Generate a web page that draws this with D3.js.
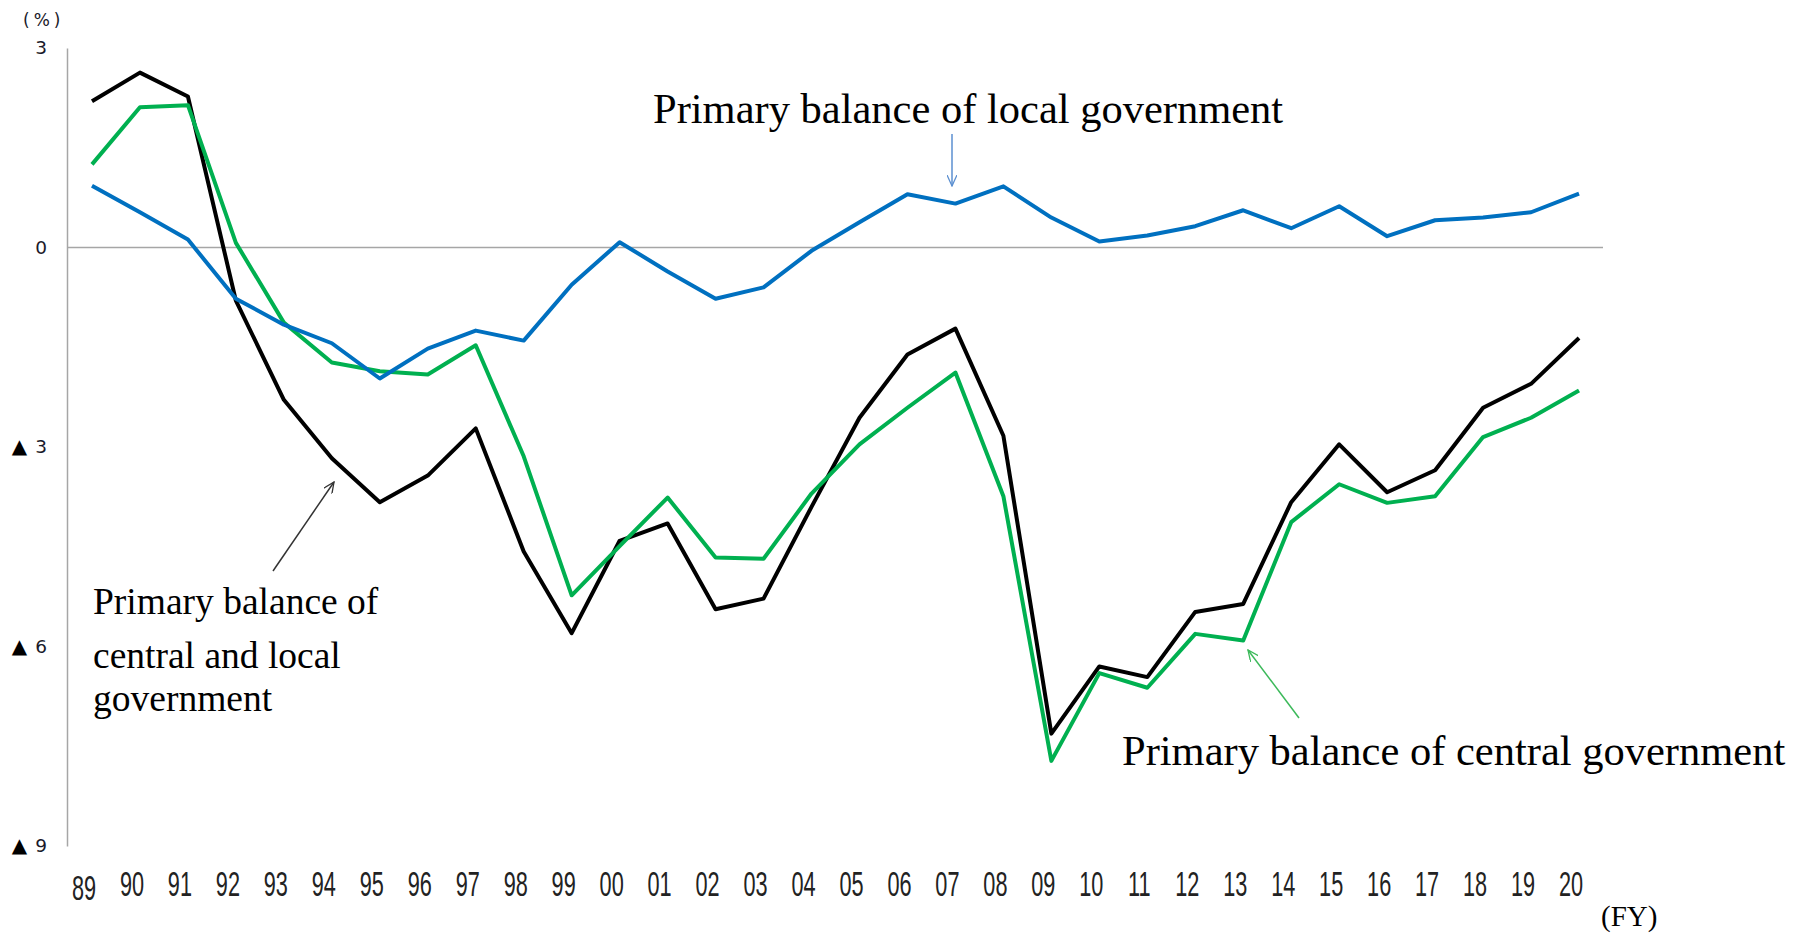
<!DOCTYPE html>
<html>
<head>
<meta charset="utf-8">
<script src="https://cdn.jsdelivr.net/npm/d3@7"></script>
<style>
body { margin: 0; background: #fff; }
svg { display: block; }
</style>
</head>
<body>
<svg id="chart" width="1800" height="933"></svg>
<script>
// fiscal years, 1989 - 2020
const years = ['89', '90', '91', '92', '93', '94', '95', '96', '97', '98', '99',
    '00', '01', '02', '03', '04', '05', '06', '07', '08', '09', '10',
    '11', '12', '13', '14', '15', '16', '17', '18', '19', '20'];
const yTicks = [3, 0, -3, -6, -9];

// primary balance, % of GDP
const centralAndLocal = [2.20, 2.63, 2.27, -0.80, -2.29, -3.17, -3.83, -3.43, -2.72, -4.57, -5.80,
    -4.41, -4.15, -5.44, -5.28, -3.90, -2.56, -1.61, -1.22, -2.83, -7.31, -6.30,
    -6.46, -5.48, -5.36, -3.83, -2.96, -3.68, -3.35, -2.41, -2.05, -1.36];
const central = [1.25, 2.11, 2.14, 0.07, -1.13, -1.73, -1.86, -1.91, -1.47, -3.14, -5.23,
    -4.49, -3.76, -4.66, -4.68, -3.70, -2.96, -2.41, -1.88, -3.74, -7.72, -6.40,
    -6.62, -5.81, -5.91, -4.13, -3.56, -3.84, -3.74, -2.85, -2.56, -2.15];
const local = [0.93, 0.53, 0.12, -0.77, -1.16, -1.44, -1.97, -1.52, -1.25, -1.40, -0.56,
    0.08, -0.36, -0.77, -0.60, -0.05, 0.38, 0.80, 0.66, 0.92, 0.45, 0.09,
    0.18, 0.32, 0.56, 0.29, 0.62, 0.17, 0.41, 0.45, 0.53, 0.81];

const seriesColors = ['#000000', '#00b050', '#0070c0'];

const svg = d3.select('#chart');
const serif = '"Liberation Serif", "Times New Roman", serif';

const x = d3.scaleBand().domain(years).range([68, 1603]);
const cx = d => x(d) + x.bandwidth() / 2;
const y = d3.scaleLinear().domain([-9, 3]).range([846, 48]);

// y axis, negatives shown with a triangle
const yAxis = svg.append('g')
    .attr('transform', 'translate(67,0)')
    .call(d3.axisLeft(y)
        .tickValues(yTicks)
        .tickSize(0)
        .tickPadding(20));
yAxis.select('.domain').attr('stroke', '#a6a6a6').attr('stroke-width', 1.5);
yAxis.selectAll('text')
    .attr('font-family', '"DejaVu Sans", sans-serif')
    .attr('font-size', 18.5)
    .attr('fill', '#1a1a2a')
    .each(function(d) {
        if (d >= 0) return;
        const t = d3.select(this).text(null);
        t.append('tspan').attr('font-size', 20).attr('fill', '#000').text('\u25B2');
        t.append('tspan').attr('dx', 8).text(-d);
    });

svg.append('text')
    .attr('x', 23).attr('y', 26)
    .attr('font-family', '"DejaVu Sans", sans-serif')
    .attr('font-size', 17)
    .attr('letter-spacing', 4)
    .attr('fill', '#1a1a2a')
    .text('(%)');

// zero line
svg.append('line')
    .attr('x1', 67).attr('x2', 1603)
    .attr('y1', y(0)).attr('y2', y(0))
    .attr('stroke', '#a6a6a6').attr('stroke-width', 1.5);

// year labels (narrow font)
svg.append('g').selectAll('text')
    .data(years)
    .join('text')
    .attr('transform', (d, i) => 'translate(' + (cx(d) - 8) + ',' + (i === 0 ? 900 : 896) + ') scale(0.62,1)')
    .attr('text-anchor', 'middle')
    .attr('font-family', '"Liberation Sans", Arial, sans-serif')
    .attr('font-size', 35)
    .attr('fill', '#222')
    .text(d => d);

svg.append('text')
    .attr('x', 1601).attr('y', 926)
    .attr('font-family', serif)
    .attr('font-size', 29)
    .attr('fill', '#000')
    .text('(FY)');

// lines
const line = d3.line()
    .x((d, i) => cx(years[i]))
    .y(d => y(d));

svg.append('g').selectAll('path')
    .data([centralAndLocal, central, local])
    .join('path')
    .attr('d', line)
    .attr('fill', 'none')
    .attr('stroke', (d, i) => seriesColors[i])
    .attr('stroke-width', 4)
    .attr('stroke-linejoin', 'round');

// arrow markers
const defs = svg.append('defs');
[['black', '#333333'], ['green', '#3cb95a'], ['blue', '#5b8fd0']].forEach(([name, c]) => {
    defs.append('marker')
        .attr('id', 'arrow-' + name)
        .attr('viewBox', '0 0 12 10')
        .attr('refX', 11).attr('refY', 5)
        .attr('markerWidth', 12).attr('markerHeight', 10)
        .attr('markerUnits', 'userSpaceOnUse')
        .attr('orient', 'auto')
        .append('path')
        .attr('d', 'M0,0 L11,5 L0,10')
        .attr('fill', 'none')
        .attr('stroke', c)
        .attr('stroke-width', 1.3);
});

function arrow(x1, y1, x2, y2, name, color) {
    svg.append('line')
        .attr('x1', x1).attr('y1', y1).attr('x2', x2).attr('y2', y2)
        .attr('stroke', color).attr('stroke-width', 1.5)
        .attr('marker-end', 'url(#arrow-' + name + ')');
}

// annotations
svg.append('text')
    .attr('x', 653).attr('y', 123)
    .attr('font-family', serif).attr('font-size', 42.5)
    .text('Primary balance of local government');
arrow(952, 134, 952, 186, 'blue', '#5b8fd0');

svg.append('text')
    .attr('x', 1122).attr('y', 765)
    .attr('font-family', serif).attr('font-size', 42.5)
    .text('Primary balance of central government');
arrow(1299, 718, 1248, 650, 'green', '#3cb95a');

const ann = svg.append('text')
    .attr('font-family', serif).attr('font-size', 37.5);
[['Primary balance of', 614], ['central and local', 668], ['government', 711]].forEach(([t, by]) => {
    ann.append('tspan').attr('x', 93).attr('y', by).text(t);
});
arrow(273, 571, 334, 482, 'black', '#333333');
</script>
</body>
</html>
